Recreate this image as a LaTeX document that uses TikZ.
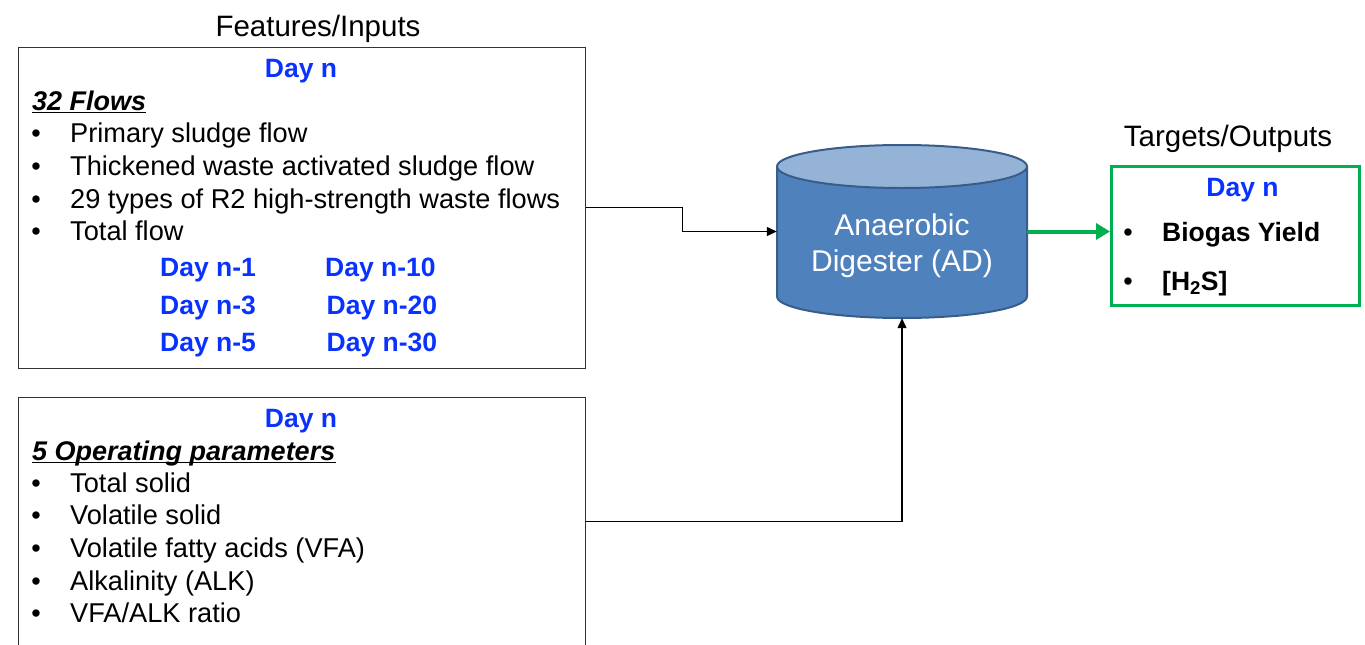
\documentclass[tikz,border=0pt]{standalone}
\usepackage{fontspec}
\setmainfont{Liberation Sans}
\usetikzlibrary{arrows.meta}
\definecolor{dayblue}{RGB}{10,50,255}
\definecolor{adbody}{RGB}{79,129,189}
\definecolor{adtop}{RGB}{149,179,215}
\definecolor{adline}{RGB}{56,93,138}
\definecolor{outgreen}{RGB}{0,176,80}
\tikzset{
  boxed/.style={draw=black!80, line width=1pt, rectangle, inner sep=0pt},
  txt/.style={font=\fontsize{27.2}{30}\selectfont, anchor=base west, inner sep=0pt},
  btxt/.style={font=\fontsize{26.5}{30}\selectfont\bfseries, anchor=base west, inner sep=0pt},
  bul/.style={font=\fontsize{27}{30}\selectfont, anchor=base, inner sep=0pt},
  daytxt/.style={font=\fontsize{26.5}{30}\selectfont\bfseries, text=dayblue, inner sep=0pt},
  head/.style={font=\fontsize{27}{30}\selectfont\bfseries\itshape, anchor=base west, inner sep=0pt},
  ttl/.style={font=\fontsize{29.5}{34}\selectfont, anchor=base, inner sep=0pt},
  conn/.style={draw=black, line width=1.2pt, -{Triangle[length=10pt,width=9pt]}},
  gconn/.style={draw=outgreen, line width=4pt, -{Triangle[length=14pt,width=16pt]}},
}
\begin{document}
\begin{tikzpicture}[x=1pt,y=-1pt]
\useasboundingbox (0,0) rectangle (1365,645);

% titles
\node[ttl] (tin) at (318,36) {Features/Inputs};
\node[ttl] (tout) at (1228,146.7) {Targets/Outputs};

% input box 1
\node[boxed, minimum width=567pt, minimum height=321pt] (in1) at (301.5,207.5) {};
\node[daytxt, anchor=base] (d1) at (301,77.5) {Day n};
\node[head] (h1) at (32,110) {32 Flows};
\draw[line width=1.4pt] ([yshift=-2.5pt]h1.base west) -- ([yshift=-2.5pt]h1.base east);
\foreach \y/\t [count=\i] in {142.7/{Primary sludge flow}, 175.3/{Thickened waste activated sludge flow}, 208/{29 types of R2 high-strength waste flows}, 240.7/{Total flow}}{
  \node[bul] (b1\i) at (36,\y) {\textbullet};
  \node[txt] (t1\i) at (70,\y) {\t};
}
\node[daytxt, anchor=base west] (dm1) at (160,276.7) {Day n-1};
\node[daytxt, anchor=base west] (dm3) at (160,314) {Day n-3};
\node[daytxt, anchor=base west] (dm5) at (160,351) {Day n-5};
\node[daytxt, anchor=base west] (dm10) at (325,276.7) {Day n-10};
\node[daytxt, anchor=base west] (dm20) at (326.5,314) {Day n-20};
\node[daytxt, anchor=base west] (dm30) at (326.5,351) {Day n-30};

% input box 2
\node[boxed, minimum width=567pt, minimum height=249pt] (in2) at (301.5,521.5) {};
\node[daytxt, anchor=base] (d2) at (301,427.5) {Day n};
\node[head] (h2) at (32,460) {5 Operating parameters};
\draw[line width=1.4pt] ([yshift=-2.5pt]h2.base west) -- ([yshift=-2.5pt]h2.base east);
\foreach \y/\t [count=\i] in {492.7/{Total solid}, 524.7/{Volatile solid}, 557.3/{Volatile fatty acids (VFA)}, 590/{Alkalinity (ALK)}, 622.7/{VFA/ALK ratio}}{
  \node[bul] (b2\i) at (36,\y) {\textbullet};
  \node[txt] (t2\i) at (70,\y) {\t};
}

% anaerobic digester
\node[minimum width=250pt, minimum height=173pt, inner sep=0pt] (AD) at (902,231.5) {};
\fill[adbody, draw=adline, line width=2pt]
  (777,166.5) -- (777,296.5)
  arc[start angle=180, end angle=360, x radius=125pt, y radius=21.5pt]
  -- (1027,166.5) -- cycle;
\filldraw[fill=adtop, draw=adline, line width=2pt] (902,166.5) ellipse[x radius=125pt, y radius=21.5pt];
\node[ttl, text=white, font=\fontsize{30}{34}\selectfont] (adt1) at (902,235) {Anaerobic};
\node[ttl, text=white, font=\fontsize{30}{34}\selectfont] (adt2) at (902,271) {Digester (AD)};

% output box
\node[draw=outgreen, line width=3pt, minimum width=248pt, minimum height=139pt, inner sep=0pt] (out) at (1235.5,236) {};
\node[daytxt, anchor=base] (d3) at (1242.5,196.7) {Day n};
\node[bul] (b31) at (1128,241.7) {\textbullet};
\node[btxt] (t31) at (1162,241.7) {Biogas Yield};
\node[bul] (b32) at (1128,290) {\textbullet};
\node[btxt] (t32) at (1162,290) {[H\textsubscript{2}S]};

% connectors
\draw[conn] (in1.east) -- ++(97,0) |- (AD.west);
\draw[conn] (in2.east) -| (AD.south);
\draw[gconn] (AD.east) -- (AD.east -| out.west);
\end{tikzpicture}
\end{document}
